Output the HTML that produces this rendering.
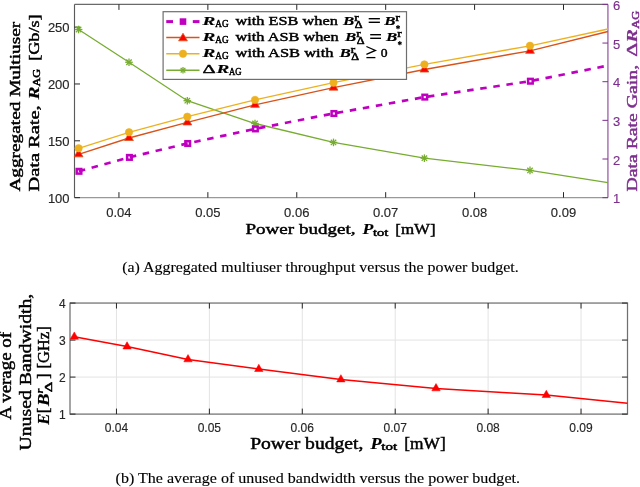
<!DOCTYPE html>
<html><head><meta charset="utf-8"><style>
html,body{margin:0;padding:0;background:#fff;width:640px;height:487px;overflow:hidden}
svg{display:block;filter:blur(0.3px)}
</style></head><body>
<svg width="640" height="487" viewBox="0 0 640 487">
<rect width="640" height="487" fill="#fff"/>
<line x1="74.5" y1="4.4" x2="607.95" y2="4.4" stroke="#6a6a6a" stroke-width="1.2"/>
<line x1="74.5" y1="197.65" x2="607.95" y2="197.65" stroke="#999" stroke-width="1.4"/>
<line x1="74.5" y1="4.4" x2="74.5" y2="197.65" stroke="#5a5a5a" stroke-width="1.15"/>
<line x1="607.95" y1="4.4" x2="607.95" y2="197.65" stroke="#7E2F8E" stroke-width="1"/>
<line x1="118.95" y1="197.65" x2="118.95" y2="192.15" stroke="#262626" stroke-width="1"/>
<line x1="118.95" y1="4.4" x2="118.95" y2="9.9" stroke="#262626" stroke-width="1"/>
<text x="118.95" y="216.80" font-family='"Liberation Sans", sans-serif' font-size="13" font-weight="normal" font-style="normal" fill="#262626" text-anchor="middle" stroke="#262626" stroke-width="0.15">0.04</text>
<line x1="207.86" y1="197.65" x2="207.86" y2="192.15" stroke="#262626" stroke-width="1"/>
<line x1="207.86" y1="4.4" x2="207.86" y2="9.9" stroke="#262626" stroke-width="1"/>
<text x="207.86" y="216.80" font-family='"Liberation Sans", sans-serif' font-size="13" font-weight="normal" font-style="normal" fill="#262626" text-anchor="middle" stroke="#262626" stroke-width="0.15">0.05</text>
<line x1="296.77" y1="197.65" x2="296.77" y2="192.15" stroke="#262626" stroke-width="1"/>
<line x1="296.77" y1="4.4" x2="296.77" y2="9.9" stroke="#262626" stroke-width="1"/>
<text x="296.77" y="216.80" font-family='"Liberation Sans", sans-serif' font-size="13" font-weight="normal" font-style="normal" fill="#262626" text-anchor="middle" stroke="#262626" stroke-width="0.15">0.06</text>
<line x1="385.68" y1="197.65" x2="385.68" y2="192.15" stroke="#262626" stroke-width="1"/>
<line x1="385.68" y1="4.4" x2="385.68" y2="9.9" stroke="#262626" stroke-width="1"/>
<text x="385.68" y="216.80" font-family='"Liberation Sans", sans-serif' font-size="13" font-weight="normal" font-style="normal" fill="#262626" text-anchor="middle" stroke="#262626" stroke-width="0.15">0.07</text>
<line x1="474.59" y1="197.65" x2="474.59" y2="192.15" stroke="#262626" stroke-width="1"/>
<line x1="474.59" y1="4.4" x2="474.59" y2="9.9" stroke="#262626" stroke-width="1"/>
<text x="474.59" y="216.80" font-family='"Liberation Sans", sans-serif' font-size="13" font-weight="normal" font-style="normal" fill="#262626" text-anchor="middle" stroke="#262626" stroke-width="0.15">0.08</text>
<line x1="563.50" y1="197.65" x2="563.50" y2="192.15" stroke="#262626" stroke-width="1"/>
<line x1="563.50" y1="4.4" x2="563.50" y2="9.9" stroke="#262626" stroke-width="1"/>
<text x="563.50" y="216.80" font-family='"Liberation Sans", sans-serif' font-size="13" font-weight="normal" font-style="normal" fill="#262626" text-anchor="middle" stroke="#262626" stroke-width="0.15">0.09</text>
<line x1="74.5" y1="197.65" x2="80.0" y2="197.65" stroke="#262626" stroke-width="1"/>
<text x="69.60" y="202.85" font-family='"Liberation Sans", sans-serif' font-size="13" font-weight="normal" font-style="normal" fill="#262626" text-anchor="end" stroke="#262626" stroke-width="0.15">100</text>
<line x1="74.5" y1="140.81" x2="80.0" y2="140.81" stroke="#262626" stroke-width="1"/>
<text x="69.60" y="146.01" font-family='"Liberation Sans", sans-serif' font-size="13" font-weight="normal" font-style="normal" fill="#262626" text-anchor="end" stroke="#262626" stroke-width="0.15">150</text>
<line x1="74.5" y1="83.97" x2="80.0" y2="83.97" stroke="#262626" stroke-width="1"/>
<text x="69.60" y="89.17" font-family='"Liberation Sans", sans-serif' font-size="13" font-weight="normal" font-style="normal" fill="#262626" text-anchor="end" stroke="#262626" stroke-width="0.15">200</text>
<line x1="74.5" y1="27.14" x2="80.0" y2="27.14" stroke="#262626" stroke-width="1"/>
<text x="69.60" y="32.34" font-family='"Liberation Sans", sans-serif' font-size="13" font-weight="normal" font-style="normal" fill="#262626" text-anchor="end" stroke="#262626" stroke-width="0.15">250</text>
<line x1="607.95" y1="197.65" x2="602.45" y2="197.65" stroke="#7E2F8E" stroke-width="1"/>
<text x="613.00" y="203.25" font-family='"Liberation Sans", sans-serif' font-size="13" font-weight="normal" font-style="normal" fill="#7E2F8E" text-anchor="start" stroke="#7E2F8E" stroke-width="0.15">1</text>
<line x1="607.95" y1="159.00" x2="602.45" y2="159.00" stroke="#7E2F8E" stroke-width="1"/>
<text x="613.00" y="164.60" font-family='"Liberation Sans", sans-serif' font-size="13" font-weight="normal" font-style="normal" fill="#7E2F8E" text-anchor="start" stroke="#7E2F8E" stroke-width="0.15">2</text>
<line x1="607.95" y1="120.35" x2="602.45" y2="120.35" stroke="#7E2F8E" stroke-width="1"/>
<text x="613.00" y="125.95" font-family='"Liberation Sans", sans-serif' font-size="13" font-weight="normal" font-style="normal" fill="#7E2F8E" text-anchor="start" stroke="#7E2F8E" stroke-width="0.15">3</text>
<line x1="607.95" y1="81.70" x2="602.45" y2="81.70" stroke="#7E2F8E" stroke-width="1"/>
<text x="613.00" y="87.30" font-family='"Liberation Sans", sans-serif' font-size="13" font-weight="normal" font-style="normal" fill="#7E2F8E" text-anchor="start" stroke="#7E2F8E" stroke-width="0.15">4</text>
<line x1="607.95" y1="43.05" x2="602.45" y2="43.05" stroke="#7E2F8E" stroke-width="1"/>
<text x="613.00" y="48.65" font-family='"Liberation Sans", sans-serif' font-size="13" font-weight="normal" font-style="normal" fill="#7E2F8E" text-anchor="start" stroke="#7E2F8E" stroke-width="0.15">5</text>
<line x1="607.95" y1="4.40" x2="602.45" y2="4.40" stroke="#7E2F8E" stroke-width="1"/>
<text x="613.00" y="10.00" font-family='"Liberation Sans", sans-serif' font-size="13" font-weight="normal" font-style="normal" fill="#7E2F8E" text-anchor="start" stroke="#7E2F8E" stroke-width="0.15">6</text>
<svg x="74.5" y="4.4" width="533.45" height="193.25" viewBox="74.5 4.4 533.45 193.25" overflow="hidden">
<polyline points="78.60,29.50 129.00,62.25 187.30,100.70 255.00,123.50 333.50,142.40 424.40,158.20 530.00,170.40 607.95,182.60" fill="none" stroke="#77AC30" stroke-width="1.3"/>
<polyline points="78.60,171.30 129.00,157.40 187.30,143.50 255.00,128.90 333.50,113.50 424.40,97.10 530.00,81.20 607.95,65.60" fill="none" stroke="#C000C0" stroke-width="2.7" stroke-dasharray="6.5 6.727" stroke-dashoffset="-0.27"/>
<polyline points="78.60,154.30 129.00,138.00 187.30,122.40 255.00,104.80 333.50,87.60 424.40,69.50 530.00,50.80 607.95,31.50" fill="none" stroke="#D95319" stroke-width="1.35"/>
<polyline points="78.60,148.30 129.00,132.30 187.30,116.70 255.00,99.90 333.50,82.70 424.40,64.40 530.00,45.80 607.95,29.00" fill="none" stroke="#EDB120" stroke-width="1.35"/>
</svg>
<line x1="74.80" y1="29.50" x2="82.40" y2="29.50" stroke="#77AC30" stroke-width="1.3"/><line x1="75.91" y1="26.81" x2="81.29" y2="32.19" stroke="#77AC30" stroke-width="1.3"/><line x1="78.60" y1="25.70" x2="78.60" y2="33.30" stroke="#77AC30" stroke-width="1.3"/><line x1="81.29" y1="26.81" x2="75.91" y2="32.19" stroke="#77AC30" stroke-width="1.3"/>
<line x1="125.20" y1="62.25" x2="132.80" y2="62.25" stroke="#77AC30" stroke-width="1.3"/><line x1="126.31" y1="59.56" x2="131.69" y2="64.94" stroke="#77AC30" stroke-width="1.3"/><line x1="129.00" y1="58.45" x2="129.00" y2="66.05" stroke="#77AC30" stroke-width="1.3"/><line x1="131.69" y1="59.56" x2="126.31" y2="64.94" stroke="#77AC30" stroke-width="1.3"/>
<line x1="183.50" y1="100.70" x2="191.10" y2="100.70" stroke="#77AC30" stroke-width="1.3"/><line x1="184.61" y1="98.01" x2="189.99" y2="103.39" stroke="#77AC30" stroke-width="1.3"/><line x1="187.30" y1="96.90" x2="187.30" y2="104.50" stroke="#77AC30" stroke-width="1.3"/><line x1="189.99" y1="98.01" x2="184.61" y2="103.39" stroke="#77AC30" stroke-width="1.3"/>
<line x1="251.20" y1="123.50" x2="258.80" y2="123.50" stroke="#77AC30" stroke-width="1.3"/><line x1="252.31" y1="120.81" x2="257.69" y2="126.19" stroke="#77AC30" stroke-width="1.3"/><line x1="255.00" y1="119.70" x2="255.00" y2="127.30" stroke="#77AC30" stroke-width="1.3"/><line x1="257.69" y1="120.81" x2="252.31" y2="126.19" stroke="#77AC30" stroke-width="1.3"/>
<line x1="329.70" y1="142.40" x2="337.30" y2="142.40" stroke="#77AC30" stroke-width="1.3"/><line x1="330.81" y1="139.71" x2="336.19" y2="145.09" stroke="#77AC30" stroke-width="1.3"/><line x1="333.50" y1="138.60" x2="333.50" y2="146.20" stroke="#77AC30" stroke-width="1.3"/><line x1="336.19" y1="139.71" x2="330.81" y2="145.09" stroke="#77AC30" stroke-width="1.3"/>
<line x1="420.60" y1="158.20" x2="428.20" y2="158.20" stroke="#77AC30" stroke-width="1.3"/><line x1="421.71" y1="155.51" x2="427.09" y2="160.89" stroke="#77AC30" stroke-width="1.3"/><line x1="424.40" y1="154.40" x2="424.40" y2="162.00" stroke="#77AC30" stroke-width="1.3"/><line x1="427.09" y1="155.51" x2="421.71" y2="160.89" stroke="#77AC30" stroke-width="1.3"/>
<line x1="526.20" y1="170.40" x2="533.80" y2="170.40" stroke="#77AC30" stroke-width="1.3"/><line x1="527.31" y1="167.71" x2="532.69" y2="173.09" stroke="#77AC30" stroke-width="1.3"/><line x1="530.00" y1="166.60" x2="530.00" y2="174.20" stroke="#77AC30" stroke-width="1.3"/><line x1="532.69" y1="167.71" x2="527.31" y2="173.09" stroke="#77AC30" stroke-width="1.3"/>
<rect x="76.70" y="169.00" width="4.6" height="4.6" fill="none" stroke="#C000C0" stroke-width="2.5"/>
<rect x="127.10" y="155.10" width="4.6" height="4.6" fill="none" stroke="#C000C0" stroke-width="2.5"/>
<rect x="185.40" y="141.20" width="4.6" height="4.6" fill="none" stroke="#C000C0" stroke-width="2.5"/>
<rect x="253.10" y="126.60" width="4.6" height="4.6" fill="none" stroke="#C000C0" stroke-width="2.5"/>
<rect x="331.60" y="111.20" width="4.6" height="4.6" fill="none" stroke="#C000C0" stroke-width="2.5"/>
<rect x="422.50" y="94.80" width="4.6" height="4.6" fill="none" stroke="#C000C0" stroke-width="2.5"/>
<rect x="528.10" y="78.90" width="4.6" height="4.6" fill="none" stroke="#C000C0" stroke-width="2.5"/>
<polygon points="78.60,149.22 74.20,156.84 83.00,156.84" fill="#FF0000" stroke="#D95319" stroke-width="0.8"/>
<polygon points="129.00,132.92 124.60,140.54 133.40,140.54" fill="#FF0000" stroke="#D95319" stroke-width="0.8"/>
<polygon points="187.30,117.32 182.90,124.94 191.70,124.94" fill="#FF0000" stroke="#D95319" stroke-width="0.8"/>
<polygon points="255.00,99.72 250.60,107.34 259.40,107.34" fill="#FF0000" stroke="#D95319" stroke-width="0.8"/>
<polygon points="333.50,82.52 329.10,90.14 337.90,90.14" fill="#FF0000" stroke="#D95319" stroke-width="0.8"/>
<polygon points="424.40,64.42 420.00,72.04 428.80,72.04" fill="#FF0000" stroke="#D95319" stroke-width="0.8"/>
<polygon points="530.00,45.72 525.60,53.34 534.40,53.34" fill="#FF0000" stroke="#D95319" stroke-width="0.8"/>
<circle cx="78.60" cy="148.30" r="3.7" fill="#EDB120" stroke="#EDB120" stroke-width="0.6"/>
<circle cx="129.00" cy="132.30" r="3.7" fill="#EDB120" stroke="#EDB120" stroke-width="0.6"/>
<circle cx="187.30" cy="116.70" r="3.7" fill="#EDB120" stroke="#EDB120" stroke-width="0.6"/>
<circle cx="255.00" cy="99.90" r="3.7" fill="#EDB120" stroke="#EDB120" stroke-width="0.6"/>
<circle cx="333.50" cy="82.70" r="3.7" fill="#EDB120" stroke="#EDB120" stroke-width="0.6"/>
<circle cx="424.40" cy="64.40" r="3.7" fill="#EDB120" stroke="#EDB120" stroke-width="0.6"/>
<circle cx="530.00" cy="45.80" r="3.7" fill="#EDB120" stroke="#EDB120" stroke-width="0.6"/>
<rect x="163.1" y="11.7" width="243.4" height="67.7" fill="#fff" stroke="#6e6e6e" stroke-width="1.2"/>
<line x1="166.25" y1="21.6" x2="173" y2="21.6" stroke="#C000C0" stroke-width="3"/>
<line x1="192.8" y1="21.6" x2="199.5" y2="21.6" stroke="#C000C0" stroke-width="3"/>
<rect x="179.70" y="18.30" width="6.6" height="6.6" fill="#C000C0"/>
<line x1="166.25" y1="37.5" x2="199.5" y2="37.5" stroke="#D95319" stroke-width="1.5"/>
<polygon points="183.00,33.22 178.60,40.84 187.40,40.84" fill="#FF0000" stroke="#D95319" stroke-width="0.8"/>
<line x1="166.25" y1="53.75" x2="199.5" y2="53.75" stroke="#EDB120" stroke-width="1.5"/>
<circle cx="183.00" cy="53.75" r="3.7" fill="#EDB120" stroke="#EDB120" stroke-width="0.6"/>
<line x1="166.25" y1="70.2" x2="199.5" y2="70.2" stroke="#77AC30" stroke-width="1.5"/>
<line x1="179.70" y1="70.20" x2="186.30" y2="70.20" stroke="#77AC30" stroke-width="1.3"/><line x1="180.67" y1="67.87" x2="185.33" y2="72.53" stroke="#77AC30" stroke-width="1.3"/><line x1="183.00" y1="66.90" x2="183.00" y2="73.50" stroke="#77AC30" stroke-width="1.3"/><line x1="185.33" y1="67.87" x2="180.67" y2="72.53" stroke="#77AC30" stroke-width="1.3"/>
<text x="202.60" y="24.60" font-family='"Liberation Serif", serif' font-size="13.5" font-weight="bold" font-style="italic" fill="#000" text-anchor="start" stroke="#000" stroke-width="0.15" textLength="12.80" lengthAdjust="spacingAndGlyphs">R</text>
<text x="215.30" y="26.60" font-family='"Liberation Serif", serif' font-size="9.5" font-weight="normal" font-style="normal" fill="#000" text-anchor="start" stroke="#000" stroke-width="0.5" textLength="13.30" lengthAdjust="spacingAndGlyphs">AG</text>
<text x="235.50" y="24.60" font-family='"Liberation Serif", serif' font-size="13.5" font-weight="normal" font-style="normal" fill="#000" text-anchor="start" stroke="#000" stroke-width="0.45" textLength="102.30" lengthAdjust="spacingAndGlyphs">with ESB when</text>
<text x="343.00" y="24.60" font-family='"Liberation Serif", serif' font-size="13.5" font-weight="bold" font-style="italic" fill="#000" text-anchor="start" stroke="#000" stroke-width="0.15" textLength="11.30" lengthAdjust="spacingAndGlyphs">B</text>
<text x="354.20" y="20.80" font-family='"Liberation Serif", serif' font-size="9.5" font-weight="normal" font-style="normal" fill="#000" text-anchor="start" stroke="#000" stroke-width="0.5" textLength="4.40" lengthAdjust="spacingAndGlyphs">r</text>
<text x="354.80" y="28.00" font-family='"Liberation Serif", serif' font-size="10" font-weight="normal" font-style="normal" fill="#000" text-anchor="start" stroke="#000" stroke-width="0.5" textLength="7.80" lengthAdjust="spacingAndGlyphs">Δ</text>
<rect x="368.70" y="18.00" width="11.20" height="1.4" fill="#000"/>
<rect x="368.70" y="21.60" width="11.20" height="1.4" fill="#000"/>
<text x="384.20" y="24.60" font-family='"Liberation Serif", serif' font-size="13.5" font-weight="bold" font-style="italic" fill="#000" text-anchor="start" stroke="#000" stroke-width="0.15" textLength="11.30" lengthAdjust="spacingAndGlyphs">B</text>
<text x="395.40" y="20.80" font-family='"Liberation Serif", serif' font-size="9.5" font-weight="normal" font-style="normal" fill="#000" text-anchor="start" stroke="#000" stroke-width="0.5" textLength="4.40" lengthAdjust="spacingAndGlyphs">r</text>
<line x1="398.00" y1="25.10" x2="398.00" y2="29.30" stroke="#000" stroke-width="1.1"/>
<line x1="399.82" y1="26.15" x2="396.18" y2="28.25" stroke="#000" stroke-width="1.1"/>
<line x1="399.82" y1="28.25" x2="396.18" y2="26.15" stroke="#000" stroke-width="1.1"/>
<text x="202.60" y="40.60" font-family='"Liberation Serif", serif' font-size="13.5" font-weight="bold" font-style="italic" fill="#000" text-anchor="start" stroke="#000" stroke-width="0.15" textLength="12.80" lengthAdjust="spacingAndGlyphs">R</text>
<text x="215.30" y="42.60" font-family='"Liberation Serif", serif' font-size="9.5" font-weight="normal" font-style="normal" fill="#000" text-anchor="start" stroke="#000" stroke-width="0.5" textLength="13.30" lengthAdjust="spacingAndGlyphs">AG</text>
<text x="235.50" y="40.60" font-family='"Liberation Serif", serif' font-size="13.5" font-weight="normal" font-style="normal" fill="#000" text-anchor="start" stroke="#000" stroke-width="0.45" textLength="103.20" lengthAdjust="spacingAndGlyphs">with ASB when</text>
<text x="345.00" y="40.60" font-family='"Liberation Serif", serif' font-size="13.5" font-weight="bold" font-style="italic" fill="#000" text-anchor="start" stroke="#000" stroke-width="0.15" textLength="11.30" lengthAdjust="spacingAndGlyphs">B</text>
<text x="356.20" y="36.80" font-family='"Liberation Serif", serif' font-size="9.5" font-weight="normal" font-style="normal" fill="#000" text-anchor="start" stroke="#000" stroke-width="0.5" textLength="4.40" lengthAdjust="spacingAndGlyphs">r</text>
<text x="356.80" y="44.00" font-family='"Liberation Serif", serif' font-size="10" font-weight="normal" font-style="normal" fill="#000" text-anchor="start" stroke="#000" stroke-width="0.5" textLength="7.80" lengthAdjust="spacingAndGlyphs">Δ</text>
<rect x="370.20" y="34.00" width="10.80" height="1.4" fill="#000"/>
<rect x="370.20" y="37.60" width="10.80" height="1.4" fill="#000"/>
<text x="386.00" y="40.60" font-family='"Liberation Serif", serif' font-size="13.5" font-weight="bold" font-style="italic" fill="#000" text-anchor="start" stroke="#000" stroke-width="0.15" textLength="11.30" lengthAdjust="spacingAndGlyphs">B</text>
<text x="397.20" y="36.80" font-family='"Liberation Serif", serif' font-size="9.5" font-weight="normal" font-style="normal" fill="#000" text-anchor="start" stroke="#000" stroke-width="0.5" textLength="4.40" lengthAdjust="spacingAndGlyphs">r</text>
<line x1="399.80" y1="41.10" x2="399.80" y2="45.30" stroke="#000" stroke-width="1.1"/>
<line x1="401.62" y1="42.15" x2="397.98" y2="44.25" stroke="#000" stroke-width="1.1"/>
<line x1="401.62" y1="44.25" x2="397.98" y2="42.15" stroke="#000" stroke-width="1.1"/>
<text x="202.60" y="56.70" font-family='"Liberation Serif", serif' font-size="13.5" font-weight="bold" font-style="italic" fill="#000" text-anchor="start" stroke="#000" stroke-width="0.15" textLength="12.80" lengthAdjust="spacingAndGlyphs">R</text>
<text x="215.30" y="58.70" font-family='"Liberation Serif", serif' font-size="9.5" font-weight="normal" font-style="normal" fill="#000" text-anchor="start" stroke="#000" stroke-width="0.5" textLength="13.30" lengthAdjust="spacingAndGlyphs">AG</text>
<text x="235.50" y="56.70" font-family='"Liberation Serif", serif' font-size="13.5" font-weight="normal" font-style="normal" fill="#000" text-anchor="start" stroke="#000" stroke-width="0.45" textLength="98.00" lengthAdjust="spacingAndGlyphs">with ASB with</text>
<text x="339.50" y="56.70" font-family='"Liberation Serif", serif' font-size="13.5" font-weight="bold" font-style="italic" fill="#000" text-anchor="start" stroke="#000" stroke-width="0.15" textLength="11.30" lengthAdjust="spacingAndGlyphs">B</text>
<text x="350.70" y="52.90" font-family='"Liberation Serif", serif' font-size="9.5" font-weight="normal" font-style="normal" fill="#000" text-anchor="start" stroke="#000" stroke-width="0.5" textLength="4.40" lengthAdjust="spacingAndGlyphs">r</text>
<text x="351.30" y="60.10" font-family='"Liberation Serif", serif' font-size="10" font-weight="normal" font-style="normal" fill="#000" text-anchor="start" stroke="#000" stroke-width="0.5" textLength="7.80" lengthAdjust="spacingAndGlyphs">Δ</text>
<polyline points="366.40,46.50 375.40,50.40 366.40,54.30" fill="none" stroke="#000" stroke-width="1.3"/>
<line x1="366.40" y1="57.60" x2="375.40" y2="57.60" stroke="#000" stroke-width="1.3"/>
<text x="380.80" y="56.70" font-family='"Liberation Serif", serif' font-size="13.5" font-weight="normal" font-style="normal" fill="#000" text-anchor="start" stroke="#000" stroke-width="0.45" textLength="6.80" lengthAdjust="spacingAndGlyphs">0</text>
<text x="202.60" y="73.00" font-family='"Liberation Serif", serif' font-size="13.5" font-weight="normal" font-style="normal" fill="#000" text-anchor="start" stroke="#000" stroke-width="0.45" textLength="13.20" lengthAdjust="spacingAndGlyphs">Δ</text>
<text x="216.50" y="73.00" font-family='"Liberation Serif", serif' font-size="13.5" font-weight="bold" font-style="italic" fill="#000" text-anchor="start" stroke="#000" stroke-width="0.15" textLength="12.80" lengthAdjust="spacingAndGlyphs">R</text>
<text x="229.00" y="75.00" font-family='"Liberation Serif", serif' font-size="9.5" font-weight="normal" font-style="normal" fill="#000" text-anchor="start" stroke="#000" stroke-width="0.5" textLength="12.50" lengthAdjust="spacingAndGlyphs">AG</text>
<text x="245.50" y="234.00" font-family='"Liberation Serif", serif' font-size="15.5" font-weight="normal" font-style="normal" fill="#000" text-anchor="start" stroke="#000" stroke-width="0.45" textLength="110.00" lengthAdjust="spacingAndGlyphs">Power budget,</text>
<text x="362.50" y="234.00" font-family='"Liberation Serif", serif' font-size="15.5" font-weight="bold" font-style="italic" fill="#000" text-anchor="start" stroke="#000" stroke-width="0.15" textLength="10.80" lengthAdjust="spacingAndGlyphs">P</text>
<text x="373.00" y="235.60" font-family='"Liberation Serif", serif' font-size="10.5" font-weight="normal" font-style="normal" fill="#000" text-anchor="start" stroke="#000" stroke-width="0.5" textLength="15.30" lengthAdjust="spacingAndGlyphs">tot</text>
<text x="395.30" y="234.00" font-family='"Liberation Serif", serif' font-size="15.5" font-weight="normal" font-style="normal" fill="#000" text-anchor="start" stroke="#000" stroke-width="0.45" textLength="40.30" lengthAdjust="spacingAndGlyphs">[mW]</text>
<text transform="translate(20.10,191.60) rotate(-90)" x="0" y="0" font-family='"Liberation Serif", serif' font-size="15.5" font-weight="normal" font-style="normal" fill="#000" text-anchor="start" stroke="#000" stroke-width="0.45" textLength="169.80" lengthAdjust="spacingAndGlyphs">Aggregated Multiuser</text>
<text transform="translate(38.60,191.60) rotate(-90)" x="0" y="0" font-family='"Liberation Serif", serif' font-size="15.5" font-weight="normal" font-style="normal" fill="#000" text-anchor="start" stroke="#000" stroke-width="0.45" textLength="86.30" lengthAdjust="spacingAndGlyphs">Data Rate,</text>
<text transform="translate(38.60,99.60) rotate(-90)" x="0" y="0" font-family='"Liberation Serif", serif' font-size="15.5" font-weight="bold" font-style="italic" fill="#000" text-anchor="start" stroke="#000" stroke-width="0.15" textLength="13.00" lengthAdjust="spacingAndGlyphs">R</text>
<text transform="translate(40.40,86.60) rotate(-90)" x="0" y="0" font-family='"Liberation Serif", serif' font-size="10.5" font-weight="normal" font-style="normal" fill="#000" text-anchor="start" stroke="#000" stroke-width="0.5" textLength="17.90" lengthAdjust="spacingAndGlyphs">AG</text>
<text transform="translate(38.60,60.80) rotate(-90)" x="0" y="0" font-family='"Liberation Serif", serif' font-size="15.5" font-weight="normal" font-style="normal" fill="#000" text-anchor="start" stroke="#000" stroke-width="0.45" textLength="46.40" lengthAdjust="spacingAndGlyphs">[Gb/s]</text>
<text transform="translate(637.00,191.60) rotate(-90)" x="0" y="0" font-family='"Liberation Serif", serif' font-size="15.5" font-weight="normal" font-style="normal" fill="#7E2F8E" text-anchor="start" stroke="#7E2F8E" stroke-width="0.45" textLength="126.70" lengthAdjust="spacingAndGlyphs">Data Rate Gain,</text>
<text transform="translate(637.00,56.70) rotate(-90)" x="0" y="0" font-family='"Liberation Serif", serif' font-size="15.5" font-weight="normal" font-style="normal" fill="#7E2F8E" text-anchor="start" stroke="#7E2F8E" stroke-width="0.45" textLength="14.00" lengthAdjust="spacingAndGlyphs">Δ</text>
<text transform="translate(637.00,42.70) rotate(-90)" x="0" y="0" font-family='"Liberation Serif", serif' font-size="15.5" font-weight="bold" font-style="italic" fill="#7E2F8E" text-anchor="start" stroke="#7E2F8E" stroke-width="0.15" textLength="13.60" lengthAdjust="spacingAndGlyphs">R</text>
<text transform="translate(639.00,28.70) rotate(-90)" x="0" y="0" font-family='"Liberation Serif", serif' font-size="10.5" font-weight="normal" font-style="normal" fill="#7E2F8E" text-anchor="start" stroke="#7E2F8E" stroke-width="0.5" textLength="18.00" lengthAdjust="spacingAndGlyphs">AG</text>
<text x="122.20" y="272.30" font-family='"Liberation Serif", serif' font-size="14.6" font-weight="normal" font-style="normal" fill="#000" text-anchor="start" stroke="#000" stroke-width="0.12" textLength="396.50" lengthAdjust="spacingAndGlyphs">(a) Aggregated multiuser throughput versus the power budget.</text>
<line x1="116.46" y1="303.05" x2="116.46" y2="414.1" stroke="#E3E3E3" stroke-width="1"/>
<line x1="209.38" y1="303.05" x2="209.38" y2="414.1" stroke="#E3E3E3" stroke-width="1"/>
<line x1="302.29" y1="303.05" x2="302.29" y2="414.1" stroke="#E3E3E3" stroke-width="1"/>
<line x1="395.21" y1="303.05" x2="395.21" y2="414.1" stroke="#E3E3E3" stroke-width="1"/>
<line x1="488.12" y1="303.05" x2="488.12" y2="414.1" stroke="#E3E3E3" stroke-width="1"/>
<line x1="581.04" y1="303.05" x2="581.04" y2="414.1" stroke="#E3E3E3" stroke-width="1"/>
<line x1="70.0" y1="377.08" x2="627.5" y2="377.08" stroke="#E3E3E3" stroke-width="1"/>
<line x1="70.0" y1="340.07" x2="627.5" y2="340.07" stroke="#E3E3E3" stroke-width="1"/>
<rect x="70.0" y="303.05" width="557.5" height="111.05000000000001" fill="none" stroke="#707070" stroke-width="1.25"/>
<line x1="116.46" y1="414.1" x2="116.46" y2="408.6" stroke="#262626" stroke-width="1"/>
<line x1="116.46" y1="303.05" x2="116.46" y2="308.55" stroke="#262626" stroke-width="1"/>
<text x="116.46" y="431.70" font-family='"Liberation Sans", sans-serif' font-size="12" font-weight="normal" font-style="normal" fill="#262626" text-anchor="middle" stroke="#262626" stroke-width="0.15">0.04</text>
<line x1="209.38" y1="414.1" x2="209.38" y2="408.6" stroke="#262626" stroke-width="1"/>
<line x1="209.38" y1="303.05" x2="209.38" y2="308.55" stroke="#262626" stroke-width="1"/>
<text x="209.38" y="431.70" font-family='"Liberation Sans", sans-serif' font-size="12" font-weight="normal" font-style="normal" fill="#262626" text-anchor="middle" stroke="#262626" stroke-width="0.15">0.05</text>
<line x1="302.29" y1="414.1" x2="302.29" y2="408.6" stroke="#262626" stroke-width="1"/>
<line x1="302.29" y1="303.05" x2="302.29" y2="308.55" stroke="#262626" stroke-width="1"/>
<text x="302.29" y="431.70" font-family='"Liberation Sans", sans-serif' font-size="12" font-weight="normal" font-style="normal" fill="#262626" text-anchor="middle" stroke="#262626" stroke-width="0.15">0.06</text>
<line x1="395.21" y1="414.1" x2="395.21" y2="408.6" stroke="#262626" stroke-width="1"/>
<line x1="395.21" y1="303.05" x2="395.21" y2="308.55" stroke="#262626" stroke-width="1"/>
<text x="395.21" y="431.70" font-family='"Liberation Sans", sans-serif' font-size="12" font-weight="normal" font-style="normal" fill="#262626" text-anchor="middle" stroke="#262626" stroke-width="0.15">0.07</text>
<line x1="488.12" y1="414.1" x2="488.12" y2="408.6" stroke="#262626" stroke-width="1"/>
<line x1="488.12" y1="303.05" x2="488.12" y2="308.55" stroke="#262626" stroke-width="1"/>
<text x="488.12" y="431.70" font-family='"Liberation Sans", sans-serif' font-size="12" font-weight="normal" font-style="normal" fill="#262626" text-anchor="middle" stroke="#262626" stroke-width="0.15">0.08</text>
<line x1="581.04" y1="414.1" x2="581.04" y2="408.6" stroke="#262626" stroke-width="1"/>
<line x1="581.04" y1="303.05" x2="581.04" y2="308.55" stroke="#262626" stroke-width="1"/>
<text x="581.04" y="431.70" font-family='"Liberation Sans", sans-serif' font-size="12" font-weight="normal" font-style="normal" fill="#262626" text-anchor="middle" stroke="#262626" stroke-width="0.15">0.09</text>
<line x1="70.0" y1="414.10" x2="75.5" y2="414.10" stroke="#262626" stroke-width="1"/>
<line x1="627.5" y1="414.10" x2="622.0" y2="414.10" stroke="#262626" stroke-width="1"/>
<text x="65.60" y="418.70" font-family='"Liberation Sans", sans-serif' font-size="12" font-weight="normal" font-style="normal" fill="#262626" text-anchor="end" stroke="#262626" stroke-width="0.15">1</text>
<line x1="70.0" y1="377.08" x2="75.5" y2="377.08" stroke="#262626" stroke-width="1"/>
<line x1="627.5" y1="377.08" x2="622.0" y2="377.08" stroke="#262626" stroke-width="1"/>
<text x="65.60" y="381.68" font-family='"Liberation Sans", sans-serif' font-size="12" font-weight="normal" font-style="normal" fill="#262626" text-anchor="end" stroke="#262626" stroke-width="0.15">2</text>
<line x1="70.0" y1="340.07" x2="75.5" y2="340.07" stroke="#262626" stroke-width="1"/>
<line x1="627.5" y1="340.07" x2="622.0" y2="340.07" stroke="#262626" stroke-width="1"/>
<text x="65.60" y="344.67" font-family='"Liberation Sans", sans-serif' font-size="12" font-weight="normal" font-style="normal" fill="#262626" text-anchor="end" stroke="#262626" stroke-width="0.15">3</text>
<line x1="70.0" y1="303.05" x2="75.5" y2="303.05" stroke="#262626" stroke-width="1"/>
<line x1="627.5" y1="303.05" x2="622.0" y2="303.05" stroke="#262626" stroke-width="1"/>
<text x="65.60" y="307.65" font-family='"Liberation Sans", sans-serif' font-size="12" font-weight="normal" font-style="normal" fill="#262626" text-anchor="end" stroke="#262626" stroke-width="0.15">4</text>
<polyline points="74.30,336.80 127.05,346.60 188.00,359.40 258.80,369.10 340.90,379.50 436.00,388.40 546.30,395.10 627.50,403.20" fill="none" stroke="#FF0000" stroke-width="1.5"/>
<polygon points="74.30,331.95 70.10,339.22 78.50,339.22" fill="#FF0000" stroke="#FF0000" stroke-width="0.5"/>
<polygon points="127.05,341.75 122.85,349.02 131.25,349.02" fill="#FF0000" stroke="#FF0000" stroke-width="0.5"/>
<polygon points="188.00,354.55 183.80,361.82 192.20,361.82" fill="#FF0000" stroke="#FF0000" stroke-width="0.5"/>
<polygon points="258.80,364.25 254.60,371.52 263.00,371.52" fill="#FF0000" stroke="#FF0000" stroke-width="0.5"/>
<polygon points="340.90,374.65 336.70,381.92 345.10,381.92" fill="#FF0000" stroke="#FF0000" stroke-width="0.5"/>
<polygon points="436.00,383.55 431.80,390.82 440.20,390.82" fill="#FF0000" stroke="#FF0000" stroke-width="0.5"/>
<polygon points="546.30,390.25 542.10,397.52 550.50,397.52" fill="#FF0000" stroke="#FF0000" stroke-width="0.5"/>
<text x="250.20" y="448.75" font-family='"Liberation Serif", serif' font-size="15.9" font-weight="normal" font-style="normal" fill="#000" text-anchor="start" stroke="#000" stroke-width="0.45" textLength="113.12" lengthAdjust="spacingAndGlyphs">Power budget,</text>
<text x="370.52" y="448.75" font-family='"Liberation Serif", serif' font-size="15.9" font-weight="bold" font-style="italic" fill="#000" text-anchor="start" stroke="#000" stroke-width="0.15" textLength="11.11" lengthAdjust="spacingAndGlyphs">P</text>
<text x="381.32" y="450.40" font-family='"Liberation Serif", serif' font-size="10.8" font-weight="normal" font-style="normal" fill="#000" text-anchor="start" stroke="#000" stroke-width="0.5" textLength="15.73" lengthAdjust="spacingAndGlyphs">tot</text>
<text x="404.26" y="448.75" font-family='"Liberation Serif", serif' font-size="15.9" font-weight="normal" font-style="normal" fill="#000" text-anchor="start" stroke="#000" stroke-width="0.45" textLength="41.44" lengthAdjust="spacingAndGlyphs">[mW]</text>
<text transform="translate(11.20,419.70) rotate(-90)" x="0" y="0" font-family='"Liberation Serif", serif' font-size="15.9" font-weight="normal" font-style="normal" fill="#000" text-anchor="start" stroke="#000" stroke-width="0.45" textLength="13.60" lengthAdjust="spacingAndGlyphs">A</text>
<text transform="translate(11.20,402.80) rotate(-90)" x="0" y="0" font-family='"Liberation Serif", serif' font-size="15.9" font-weight="normal" font-style="normal" fill="#000" text-anchor="start" stroke="#000" stroke-width="0.45" textLength="70.90" lengthAdjust="spacingAndGlyphs">verage of</text>
<text transform="translate(30.50,450.50) rotate(-90)" x="0" y="0" font-family='"Liberation Serif", serif' font-size="15.9" font-weight="normal" font-style="normal" fill="#000" text-anchor="start" stroke="#000" stroke-width="0.45" textLength="156.80" lengthAdjust="spacingAndGlyphs">Unused Bandwidth,</text>
<text transform="translate(48.50,424.70) rotate(-90)" x="0" y="0" font-family='"Liberation Serif", serif' font-size="15.9" font-weight="bold" font-style="italic" fill="#000" text-anchor="start" stroke="#000" stroke-width="0.15" textLength="11.30" lengthAdjust="spacingAndGlyphs">E</text>
<text transform="translate(48.50,413.20) rotate(-90)" x="0" y="0" font-family='"Liberation Serif", serif' font-size="15.9" font-weight="normal" font-style="normal" fill="#000" text-anchor="start" stroke="#000" stroke-width="0.45" textLength="5.50" lengthAdjust="spacingAndGlyphs">[</text>
<text transform="translate(48.50,406.00) rotate(-90)" x="0" y="0" font-family='"Liberation Serif", serif' font-size="15.9" font-weight="bold" font-style="italic" fill="#000" text-anchor="start" stroke="#000" stroke-width="0.15" textLength="12.50" lengthAdjust="spacingAndGlyphs">B</text>
<text transform="translate(42.50,393.50) rotate(-90)" x="0" y="0" font-family='"Liberation Serif", serif' font-size="10.5" font-weight="bold" font-style="italic" fill="#000" text-anchor="start" stroke="#000" stroke-width="0.15" textLength="5.00" lengthAdjust="spacingAndGlyphs">r</text>
<text transform="translate(51.50,392.30) rotate(-90)" x="0" y="0" font-family='"Liberation Serif", serif' font-size="10.5" font-weight="normal" font-style="normal" fill="#000" text-anchor="start" stroke="#000" stroke-width="0.5" textLength="10.50" lengthAdjust="spacingAndGlyphs">Δ</text>
<text transform="translate(48.50,378.70) rotate(-90)" x="0" y="0" font-family='"Liberation Serif", serif' font-size="15.9" font-weight="normal" font-style="normal" fill="#000" text-anchor="start" stroke="#000" stroke-width="0.45" textLength="5.10" lengthAdjust="spacingAndGlyphs">]</text>
<text transform="translate(48.50,368.60) rotate(-90)" x="0" y="0" font-family='"Liberation Serif", serif' font-size="15.9" font-weight="normal" font-style="normal" fill="#000" text-anchor="start" stroke="#000" stroke-width="0.45" textLength="42.30" lengthAdjust="spacingAndGlyphs">[GHz]</text>
<text x="115.60" y="482.50" font-family='"Liberation Serif", serif' font-size="14.6" font-weight="normal" font-style="normal" fill="#000" text-anchor="start" stroke="#000" stroke-width="0.12" textLength="404.40" lengthAdjust="spacingAndGlyphs">(b) The average of unused bandwidth versus the power budget.</text>
</svg>
</body></html>
